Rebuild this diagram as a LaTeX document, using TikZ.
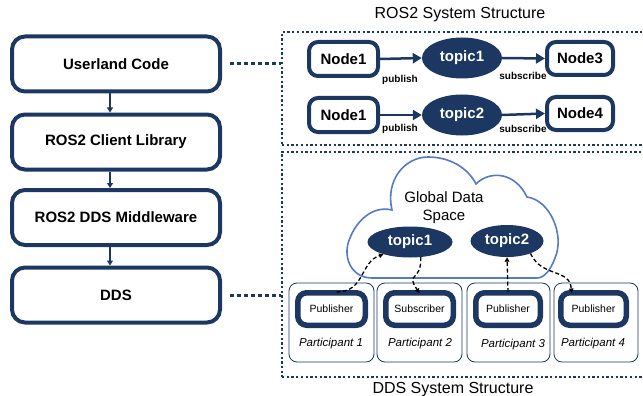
\documentclass[tikz,border=0pt]{standalone}
\usepackage{fontspec}
\setmainfont{Liberation Sans}
\usetikzlibrary{shapes.geometric,arrows.meta}
\definecolor{navy}{RGB}{28,55,98}
\definecolor{cloudblue}{RGB}{84,122,200}
\begin{document}
\begin{tikzpicture}[x=1pt,y=-1pt,
  layerbox/.style={draw=navy,line width=4pt,rounded corners=13pt,minimum width=208pt,minimum height=55pt,inner sep=0pt,font=\fontsize{15}{18}\selectfont\bfseries},
  rosnode/.style={draw=navy,line width=4pt,rounded corners=9pt,minimum height=34pt,inner sep=0pt,font=\fontsize{15}{18}\selectfont\bfseries},
  topicell/.style={ellipse,fill=navy,text=white,inner sep=0pt,font=\fontsize{15}{18}\selectfont\bfseries},
  frame/.style={draw=navy,line width=2.3pt,dash pattern=on 2.3pt off 2.4pt,minimum width=368pt,inner sep=0pt},
  conn/.style={draw=navy,line width=3pt,dash pattern=on 4pt off 3pt},
  stackarrow/.style={draw=navy,line width=1.5pt,-{Triangle[length=5pt,width=6pt]}},
  rosarrow/.style={draw=navy,line width=2.5pt,-{Triangle[length=9pt,width=10pt]}},
  smalllabel/.style={font=\fontsize{10}{12}\selectfont\bfseries},
  title/.style={font=\fontsize{16}{19}\selectfont},
  partbox/.style={draw=navy,line width=0.8pt,rounded corners=8pt,minimum height=79pt,inner sep=0pt},
  pubbox/.style={draw=navy,line width=5.5pt,rounded corners=9pt,minimum height=32.5pt,inner sep=0pt,font=\fontsize{10.5}{12}\selectfont},
  partlabel/.style={font=\fontsize{11.5}{14}\selectfont\itshape},
  flow/.style={draw=black,line width=1.3pt,dash pattern=on 4pt off 2.5pt,-{Triangle[length=4.5pt,width=4.5pt]}}
]
\useasboundingbox (0,0) rectangle (643,396);

% left stack
\node[layerbox] (ucode) at (116,64) {Userland Code};
\node[layerbox] (rcl) at (116,142) {ROS2 Client Library};
\node[layerbox] (mid) at (116,217.5) {ROS2 DDS Middleware};
\node[layerbox] (dds) at (116,295) {DDS};
\draw[stackarrow] ([xshift=-6pt]ucode.south) -- ([xshift=-6pt]rcl.north);
\draw[stackarrow] ([xshift=-6pt]rcl.south) -- ([xshift=-6pt]mid.north);
\draw[stackarrow] ([xshift=-6pt]mid.south) -- ([xshift=-6pt]dds.north);

% frames
\node[frame,minimum height=113pt] (rosframe) at (466,88.5) {};
\node[frame,minimum height=225pt] (ddsframe) at (466,264.5) {};
\node[title] (rostitle) at (460,15) {ROS2 System Structure};
\node[title] (ddstitle) at (453,389.5) {DDS System Structure};
\draw[conn] ([xshift=8pt]ucode.east) -- (ucode.east -| rosframe.west);
\draw[conn] ([xshift=8pt]dds.east) -- (dds.east -| ddsframe.west);

% ROS2 system
\node[rosnode,minimum width=69pt] (n1a) at (343.5,59) {Node1};
\node[rosnode,minimum width=69pt] (n1b) at (343.5,115) {Node1};
\node[topicell,minimum width=80pt,minimum height=41pt] (t1) at (462,58) {topic1};
\node[topicell,minimum width=80pt,minimum height=41pt] (t2) at (462,115) {topic2};
\node[rosnode,minimum width=66pt,minimum height=33pt] (n3) at (580,58.5) {Node3};
\node[rosnode,minimum width=66pt,minimum height=33pt] (n4) at (580,113.5) {Node4};
\draw[rosarrow] (n1a.east) -- (t1.west);
\draw[rosarrow] (t1.east) -- (n3.west);
\draw[rosarrow] (n1b.east) -- (t2.west);
\draw[rosarrow] (t2.east) -- (n4.west);
\node[smalllabel] (pub1) at (400,80) {publish};
\node[smalllabel] (sub1) at (523,75.5) {subscribe};
\node[smalllabel] (pub2) at (400,128.5) {publish};
\node[smalllabel] (sub2) at (523,129) {subscribe};

% cloud
\draw[cloudblue,line width=1.6pt,fill=white]
  (372,278) .. controls (350,278) and (342,255) .. (350,238)
  .. controls (356,222) and (372,205) .. (392,210)
  .. controls (385,180) and (405,157) .. (428,157)
  .. controls (450,157) and (468,168) .. (476,184)
  .. controls (490,170) and (515,172) .. (527,197)
  .. controls (550,200) and (565,235) .. (555,258)
  .. controls (550,272) and (543,278) .. (537,278) -- cycle;
\node[font=\fontsize{15}{18}\selectfont,align=center] (gds) at (444,207.5) {Global Data\\Space};
\node[topicell,minimum width=85pt,minimum height=31pt] (dt1) at (410,242) {topic1};
\node[topicell,minimum width=73pt,minimum height=32pt] (dt2) at (507,241) {topic2};

% participants
\node[partbox,minimum width=85pt] (p1) at (331.5,322.5) {};
\node[partbox,minimum width=85pt] (p2) at (419.5,322.5) {};
\node[partbox,minimum width=83pt] (p3) at (508.5,322.5) {};
\node[partbox,minimum width=84pt] (p4) at (596,322.5) {};
\node[pubbox,minimum width=67.5pt] (pb1) at (331.5,309) {Publisher};
\node[pubbox,minimum width=67.5pt] (pb2) at (419.5,309) {Subscriber};
\node[pubbox,minimum width=64.5pt] (pb3) at (508,309) {Publisher};
\node[pubbox,minimum width=65.5pt] (pb4) at (593.5,309) {Publisher};
\node[partlabel] (l1) at (331,344) {Participant 1};
\node[partlabel] (l2) at (420,344) {Participant 2};
\node[partlabel] (l3) at (513,345) {Participant 3};
\node[partlabel] (l4) at (593,344) {Participant 4};

% flows
\draw[flow] ([xshift=5pt,yshift=-2pt]pb1.north) .. controls (365,292) and (360,262) .. (dt1.205);
\draw[flow] (dt1.-55) .. controls (422,282) and (405,272) .. ([yshift=-3pt]pb2.north);
\draw[flow] ([yshift=-2pt]pb3.north) -- (dt2.south);
\draw[flow] (dt2.-28) .. controls (542,278) and (570,268) .. ([xshift=-22pt,yshift=-3pt]pb4.north);
\end{tikzpicture}
\end{document}
